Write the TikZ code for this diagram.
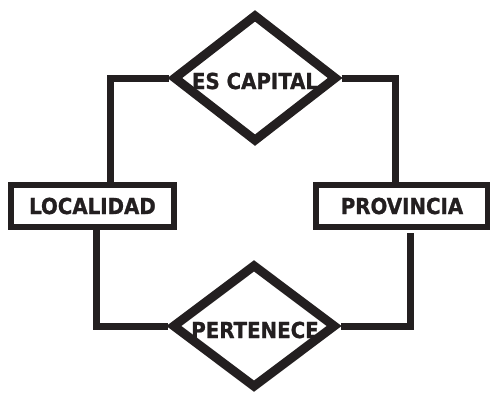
\documentclass[tikz,border=0pt]{standalone}
\usepackage{fontspec}
\newfontfamily\erfont{DejaVu Sans Condensed}[BoldFeatures={FakeBold=1}]
\definecolor{erblack}{RGB}{35,31,32}
\usetikzlibrary{shapes.geometric,calc}

\begin{document}
\begin{tikzpicture}[x=1pt,y=-1pt,
  entbox/.style={
    rectangle, draw=erblack, line width=6pt,
    minimum height=42pt, inner sep=0pt,
    font=\erfont\fontsize{22}{22}\selectfont\bfseries,
    text=erblack
  },
  relshape/.style={
    diamond, draw=erblack, line width=9pt,
    inner sep=0pt
  },
  reltext/.style={font=\erfont\fontsize{22}{22}\selectfont\bfseries, text=erblack},
  conn/.style={draw=erblack, line width=7pt}
]
\useasboundingbox (0,0) rectangle (490,394);

\node[relshape, minimum width=164pt, minimum height=128pt] (escap) at (255,78)  {};
\node[relshape, minimum width=164pt, minimum height=124pt] (pert)  at (254,326) {};
\node[reltext] (escapt) at (255,81)  {ES CAPITAL};
\node[reltext] (pertt)  at (255,330) {PERTENECE};

\node[entbox, minimum width=163pt] (loc)  at (92.5,206) {LOCALIDAD};
\node[entbox, minimum width=172pt] (prov) at (402,206)  {PROVINCIA};

\draw[conn] (escap.west) -| ([xshift=17.5pt]loc.north);
\draw[conn] (escap.east) -| ([xshift=-7pt]prov.north);
\draw[conn] ([xshift=3.5pt]loc.south) |- (pert.west);
\draw[conn] ([xshift=8pt,yshift=-3pt]prov.south) |- (pert.east);
\end{tikzpicture}
\end{document}
